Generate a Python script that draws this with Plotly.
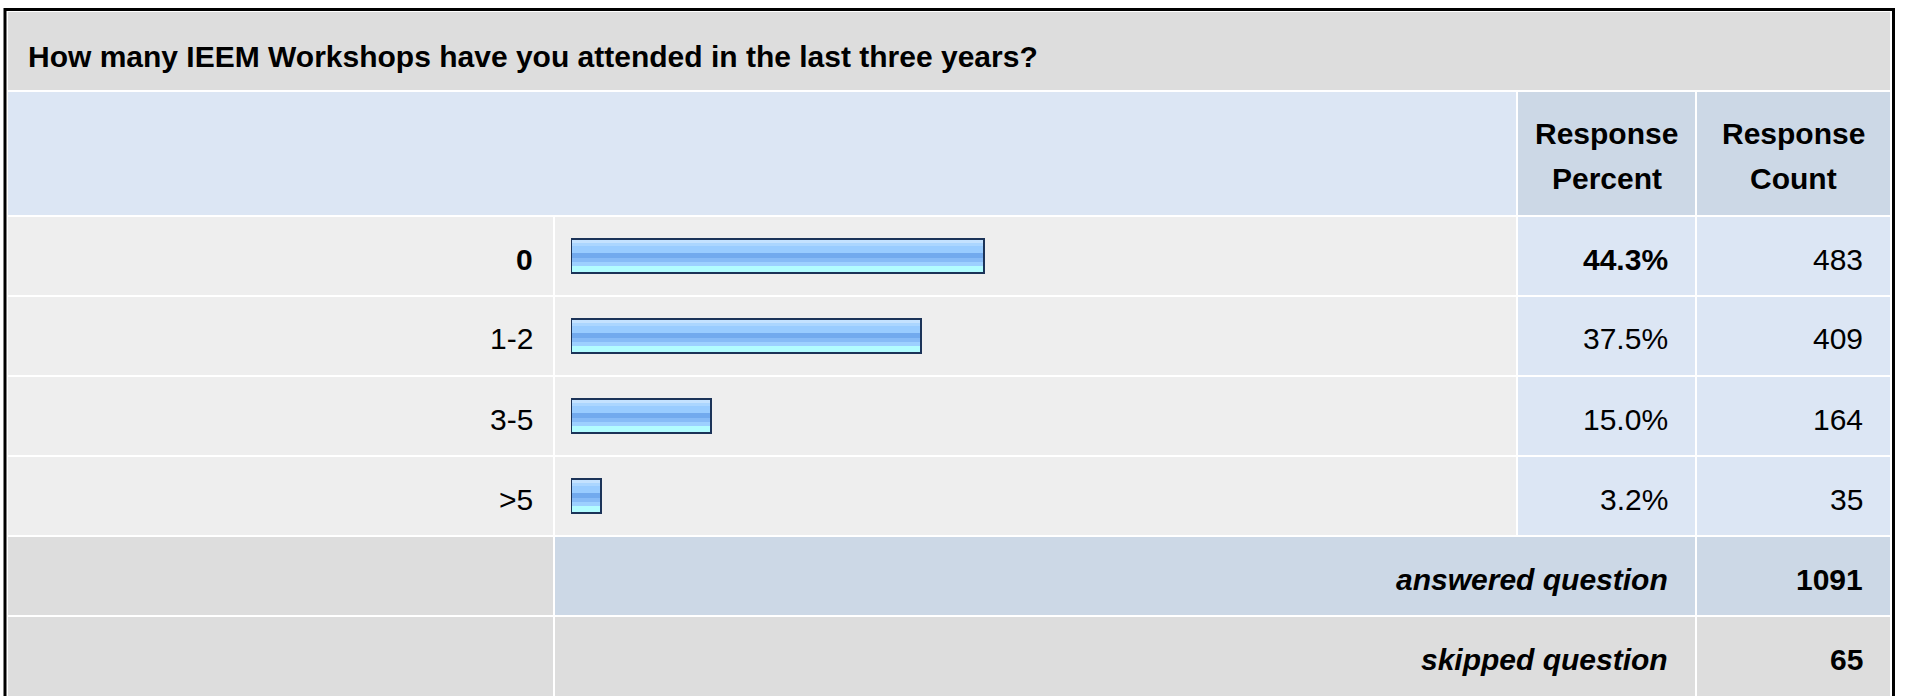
import plotly.graph_objects as go

# ---------------- data ----------------
title_text = "How many IEEM Workshops have you attended in the last three years?"
categories = ["0", "1-2", "3-5", ">5"]
percents = [44.3, 37.5, 15.0, 3.2]
counts = [483, 409, 164, 35]
header_percent = ["Response", "Percent"]
header_count = ["Response", "Count"]
answered_label = "answered question"
answered_count = 1091
skipped_label = "skipped question"
skipped_count = 65

# ---------------- geometry (page pixels) ----------------
W, H = 1905, 696
FONT = "Liberation Sans, Arial, Helvetica, sans-serif"


def X(px):
    return px / W


def Y(py):
    return 1 - py / H


C0 = (8, 553)      # label column
C1 = (555, 1516)   # bar column
C2 = (1518, 1695)  # percent column
C3 = (1697, 1890)  # count column
TITLE_ROW = (12, 90)
HEAD_ROW = (92, 215)
ROW0 = 217
PITCH = 80
ROW_H = 78

GRAY_T = "#DDDDDD"
LIGHT_BLUE = "#DCE6F4"
DARK_BLUE = "#CCD8E6"
ROW_GRAY = "#EEEEEE"

shapes = []


def cell(xr, yr, color):
    shapes.append(dict(type="rect", xref="paper", yref="paper",
                       x0=X(xr[0]), x1=X(xr[1]), y0=Y(yr[1]), y1=Y(yr[0]),
                       fillcolor=color, line=dict(width=0), layer="below"))


# title band
cell((C0[0], C3[1]), TITLE_ROW, GRAY_T)
# header band
cell((C0[0], C1[1]), HEAD_ROW, LIGHT_BLUE)
cell(C2, HEAD_ROW, DARK_BLUE)
cell(C3, HEAD_ROW, DARK_BLUE)
# data rows
n = len(categories)
for i in range(n):
    yr = (ROW0 + PITCH * i, ROW0 + PITCH * i + ROW_H)
    cell(C0, yr, ROW_GRAY)
    cell(C1, yr, ROW_GRAY)
    cell(C2, yr, LIGHT_BLUE)
    cell(C3, yr, LIGHT_BLUE)
# answered row
ya = (ROW0 + PITCH * n, ROW0 + PITCH * n + ROW_H)
cell(C0, ya, GRAY_T)
cell((C1[0], C2[1]), ya, DARK_BLUE)
cell(C3, ya, DARK_BLUE)
# skipped row
ys = (ROW0 + PITCH * (n + 1), ROW0 + PITCH * (n + 1) + 90)
cell(C0, ys, GRAY_T)
cell((C1[0], C2[1]), ys, GRAY_T)
cell(C3, ys, GRAY_T)

# outer black frame
shapes.append(dict(type="rect", xref="paper", yref="paper",
                   x0=X(5), x1=X(1893.5), y0=Y(720), y1=Y(9.5),
                   fillcolor="rgba(0,0,0,0)", line=dict(color="#000000", width=3),
                   layer="above"))

annotations = []


def ann(text, x_px, y_px, xanchor="right", align="right"):
    annotations.append(dict(text=text, x=X(x_px), y=Y(y_px), xref="paper", yref="paper",
                            xanchor=xanchor, yanchor="middle", align=align,
                            showarrow=False, font=dict(family=FONT, size=30, color="#000000")))


TY = 3  # small downward shift of text relative to row centre
ann("<b>" + title_text + "</b>", 26, 56.5, xanchor="left", align="left")

hc = (HEAD_ROW[0] + HEAD_ROW[1]) / 2 + 2
for k, line in enumerate(header_percent):
    ann("<b>" + line + "</b>", (C2[0] + C2[1]) / 2, hc + (k - 0.5) * 45, xanchor="center", align="center")
for k, line in enumerate(header_count):
    ann("<b>" + line + "</b>", (C3[0] + C3[1]) / 2, hc + (k - 0.5) * 45, xanchor="center", align="center")

imax = percents.index(max(percents))
for i, (c, p, k) in enumerate(zip(categories, percents, counts)):
    yc = ROW0 + PITCH * i + ROW_H / 2 + TY
    lab = c
    ptxt = f"{p:.1f}%"
    if i == imax:
        lab = "<b>" + lab + "</b>"
        ptxt = "<b>" + ptxt + "</b>"
    ann(lab, 535, yc)
    ann(ptxt, 1670, yc)
    ann(str(k), 1865, yc)

ann("<b><i>" + answered_label + "</i></b>", 1670, ya[0] + ROW_H / 2 + TY)
ann("<b>" + str(answered_count) + "</b>", 1865, ya[0] + ROW_H / 2 + TY)
ann("<b><i>" + skipped_label + "</i></b>", 1670, ys[0] + ROW_H / 2 + TY)
ann("<b>" + str(skipped_count) + "</b>", 1865, ys[0] + ROW_H / 2 + TY)

# ---------------- bars (striped gradient) ----------------
fig = go.Figure()
stripes = [(-17, -13, "#C4E2FF"), (-13, -10, "#ABD6FF"), (-10, -3, "#99CCFF"),
           (-3, 2, "#72AAEE"), (2, 6, "#87BBF7"), (6, 10, "#9DD0FF"), (10, 17, "#B2FCFF")]
for a, b, col in stripes:
    fig.add_trace(go.Bar(x=percents, y=categories, orientation="h",
                         offset=a / PITCH, width=(b - a) / PITCH,
                         marker=dict(color=col, line=dict(width=0)),
                         hoverinfo="skip", showlegend=False))
fig.add_trace(go.Bar(x=percents, y=categories, orientation="h",
                     offset=-17 / PITCH, width=34 / PITCH,
                     marker=dict(color="rgba(0,0,0,0)", line=dict(color="#1B3358", width=2)),
                     hoverinfo="skip", showlegend=False))

fig.update_layout(
    width=W, height=H, autosize=False,
    margin=dict(l=0, r=0, t=0, b=0, pad=0),
    paper_bgcolor="#FFFFFF", plot_bgcolor="rgba(0,0,0,0)",
    barmode="overlay", bargap=0,
    shapes=shapes, annotations=annotations,
    xaxis=dict(domain=[X(571), X(571 + 932)], range=[0, 100], visible=False, fixedrange=True),
    yaxis=dict(domain=[Y(ROW0 - 1 + PITCH * n), Y(ROW0 - 1)], type="category",
               categoryorder="array", categoryarray=categories,
               range=[n - 0.5, -0.5], visible=False, fixedrange=True),
)

fig.write_html("out.html", config={"displayModeBar": False},
               post_script="document.body.style.margin='0px';document.documentElement.style.overflow='hidden';")
